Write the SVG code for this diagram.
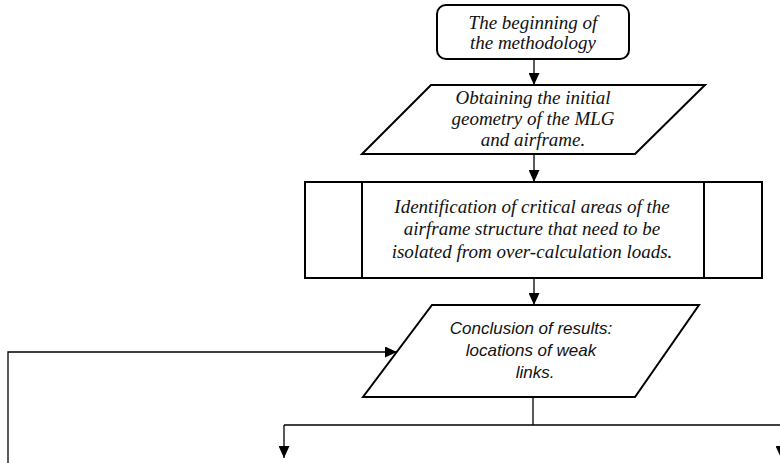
<svg xmlns="http://www.w3.org/2000/svg" width="780" height="463" viewBox="0 0 780 463">
<style>
.shape{fill:#fff;stroke:#000;stroke-width:2}
.conn{fill:none;stroke:#000;stroke-width:1.3}
.ts{font-family:"Liberation Serif","Times New Roman",serif;font-style:italic;font-size:19px;fill:#111;text-anchor:middle}
.tn{font-family:"Liberation Sans",Arial,sans-serif;font-style:italic;font-size:17px;fill:#111;text-anchor:middle}
</style>
<defs>
<marker id="arr" viewBox="0 0 12 11" refX="12" refY="5.5" markerWidth="12" markerHeight="11" markerUnits="userSpaceOnUse" orient="auto">
<path d="M0,0 L12,5.5 L0,11 Z" fill="#000"/>
</marker>
</defs>
<rect width="780" height="463" fill="#fff"/>
<g id="connectors">
<path class="conn" d="M534,59 V85" marker-end="url(#arr)"/>
<path class="conn" d="M534,154 V182" marker-end="url(#arr)"/>
<path class="conn" d="M534,278 V305" marker-end="url(#arr)"/>
<path class="conn" d="M8,463 V352 H397" marker-end="url(#arr)"/>
<path class="conn" d="M533,397 V425"/>
<path class="conn" d="M284,425 H782"/>
<path class="conn" d="M284,425 V458" marker-end="url(#arr)"/>
<path class="conn" d="M781,425 V458" marker-end="url(#arr)"/>
</g>
<g id="start">
<rect class="shape" x="437" y="5" width="192" height="54" rx="9"/>
<text class="ts" x="533" y="29">The beginning of</text>
<text class="ts" x="533" y="49">the methodology</text>
</g>
<g id="geometry">
<polygon class="shape" points="431,85 705,85 635,154 362,154"/>
<text class="ts" x="533" y="104">Obtaining the initial</text>
<text class="ts" x="533" y="125">geometry of the MLG</text>
<text class="ts" x="533" y="146">and airframe.</text>
</g>
<g id="identification">
<rect class="shape" x="305" y="182" width="457" height="96"/>
<line class="shape" x1="362" y1="182" x2="362" y2="278"/>
<line class="shape" x1="704" y1="182" x2="704" y2="278"/>
<text class="ts" x="532" y="213">Identification of critical areas of the</text>
<text class="ts" x="532" y="235">airframe structure that need to be</text>
<text class="ts" x="532" y="258">isolated from over-calculation loads.</text>
</g>
<g id="conclusion">
<polygon class="shape" points="432,305 699,305 635,397 363,397"/>
<text class="tn" x="531" y="334">Conclusion of results:</text>
<text class="tn" x="531" y="356">locations of weak</text>
<text class="tn" x="535" y="378">links.</text>
</g>
</svg>
